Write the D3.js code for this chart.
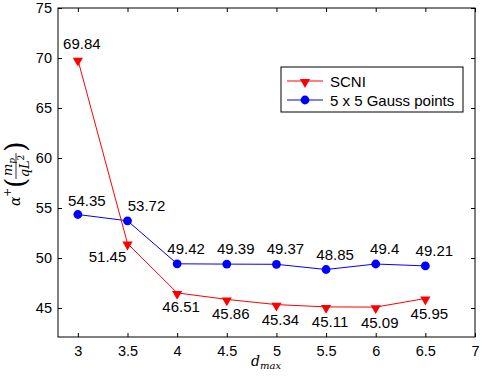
<!DOCTYPE html>
<html><head><meta charset="utf-8">
<script src="https://cdn.jsdelivr.net/npm/d3@7"></script>
<style>body{margin:0;background:#fff}svg{display:block}</style>
</head><body>
<svg id="c" width="482" height="376"></svg>
<script>
const dmax = [3, 3.5, 4, 4.5, 5, 5.5, 6, 6.5];
const scni = [69.84, 51.45, 46.51, 45.86, 45.34, 45.11, 45.09, 45.95];
const gauss = [54.35, 53.72, 49.42, 49.39, 49.37, 48.85, 49.4, 49.21];
const xTicks = [3, 3.5, 4, 4.5, 5, 5.5, 6, 6.5, 7];
const yTicks = [45, 50, 55, 60, 65, 70, 75];
const seriesNames = ["SCNI", "5 x 5 Gauss points"];
// label placement offsets (px): [dx, dy]
const scniLabelOff = [[4,-11],[-20,18],[4,19],[4,20],[4,20],[4,20],[4,21],[4,20]];
const gaussLabelOff = [[9,-9],[19,-10],[9,-10],[9,-10],[9,-10],[9,-10],[9,-10],[9,-10]];

const svg = d3.select("#c");
const L = 58, R = 475, T = 8, B = 337;
const x = d3.scaleLinear().domain([2.8, 7]).range([L, R]);
const y = d3.scaleLinear().domain([42.1, 75]).range([B, T]);
const font = "'Liberation Sans', Arial, Helvetica, sans-serif";

// axes
const ax = svg.append("g");
ax.append("g").attr("transform", `translate(0,${B})`)
  .call(d3.axisBottom(x).tickValues(xTicks).tickSize(-4).tickPadding(9).tickFormat(d3.format("")))
  .call(g => g.select(".domain").remove());
ax.append("g").attr("transform", `translate(0,${T})`)
  .call(d3.axisTop(x).tickValues(xTicks).tickSize(-4).tickFormat(""))
  .call(g => g.select(".domain").remove());
ax.append("g").attr("transform", `translate(${L},0)`)
  .call(d3.axisLeft(y).tickValues(yTicks).tickSize(-4).tickPadding(6).tickFormat(d3.format("")))
  .call(g => g.select(".domain").remove());
ax.append("g").attr("transform", `translate(${R},0)`)
  .call(d3.axisRight(y).tickValues(yTicks).tickSize(-4).tickFormat(""))
  .call(g => g.select(".domain").remove());
ax.selectAll("text").attr("fill", "#000").attr("font-family", font).attr("font-size", 14.5);
ax.selectAll(".tick line").attr("stroke", "#000");
svg.append("rect").attr("x", L).attr("y", T).attr("width", R - L).attr("height", B - T)
  .attr("fill", "none").attr("stroke", "#000").attr("stroke-width", 1);

const line = d3.line().x((d, i) => x(dmax[i])).y(d => y(d));
const tri = d3.symbol().type(d3.symbolTriangle).size(45);

// gauss series
svg.append("path").datum(gauss).attr("d", line).attr("fill", "none").attr("stroke", "#0000ff").attr("stroke-width", 1);
svg.selectAll(".gm").data(gauss).join("circle").attr("cx", (d, i) => x(dmax[i])).attr("cy", d => y(d))
  .attr("r", 4.4).attr("fill", "#0000ff");
// scni series
svg.append("path").datum(scni).attr("d", line).attr("fill", "none").attr("stroke", "#ff0000").attr("stroke-width", 1);
svg.selectAll(".sm").data(scni).join("path")
  .attr("d", tri).attr("fill", "#ff0000")
  .attr("transform", (d, i) => `translate(${x(dmax[i])},${y(d) + 1}) rotate(180)`);

// labels
const lab = svg.append("g").attr("font-family", font).attr("font-size", 15).attr("text-anchor", "middle").attr("fill", "#000");
lab.selectAll(".sl").data(scni).join("text")
  .attr("x", (d, i) => x(dmax[i]) + scniLabelOff[i][0]).attr("y", (d, i) => y(d) + scniLabelOff[i][1]).text(d => d);
lab.selectAll(".gl").data(gauss).join("text")
  .attr("x", (d, i) => x(dmax[i]) + gaussLabelOff[i][0]).attr("y", (d, i) => y(d) + gaussLabelOff[i][1]).text(d => d);

// legend
const lg = svg.append("g");
lg.append("rect").attr("x", 281).attr("y", 67).attr("width", 182).attr("height", 45)
  .attr("fill", "#fff").attr("stroke", "#000").attr("stroke-width", 1);
const colors = ["#ff0000", "#0000ff"];
seriesNames.forEach((n, i) => {
  const yy = 81 + i * 19;
  lg.append("line").attr("x1", 287).attr("x2", 323).attr("y1", yy).attr("y2", yy).attr("stroke", colors[i]);
  if (i === 0) lg.append("path").attr("d", tri).attr("fill", colors[i]).attr("transform", `translate(305,${yy + 1}) rotate(180)`);
  else lg.append("circle").attr("cx", 305).attr("cy", yy).attr("r", 4.4).attr("fill", colors[i]);
  lg.append("text").attr("x", 330).attr("y", yy + 5.5).attr("font-family", font).attr("font-size", 15).text(n);
});

// x label
const serif = "'DejaVu Serif', 'Liberation Serif', serif";
const xl = svg.append("text").attr("x", 266).attr("y", 366).attr("text-anchor", "middle")
  .attr("font-family", serif).attr("font-style", "italic").attr("font-size", 14);
xl.append("tspan").text("d");
xl.append("tspan").attr("font-size", 10).attr("dy", 3).text("max");

// y label (rotated)
const yl = svg.append("g").attr("transform", "translate(16,176) rotate(-90)")
  .attr("font-family", serif).attr("font-style", "italic").attr("fill", "#000");
yl.append("text").attr("x", -30).attr("y", 4).attr("font-size", 14).text("α");
yl.append("text").attr("x", -21).attr("y", -5).attr("font-size", 11).attr("font-style", "normal").text("+");
yl.append("text").attr("x", -12).attr("y", 9).attr("font-size", 27).attr("font-style", "normal").attr("font-weight", "200").text("(");
const num = yl.append("text").attr("x", 9).attr("y", -4).attr("text-anchor", "middle").attr("font-size", 13);
num.append("tspan").text("m");
num.append("tspan").attr("font-size", 9).attr("dy", 3).text("p");
yl.append("line").attr("x1", -3).attr("x2", 23).attr("y1", 0).attr("y2", 0).attr("stroke", "#000").attr("stroke-width", 0.8);
const den = yl.append("text").attr("x", 10).attr("y", 13).attr("text-anchor", "middle").attr("font-size", 13);
den.append("tspan").text("qL");
den.append("tspan").attr("font-size", 9).attr("dy", -5).attr("font-style", "normal").text("2");
yl.append("text").attr("x", 24).attr("y", 9).attr("font-size", 27).attr("font-style", "normal").attr("font-weight", "200").text(")");
</script>
</body></html>
